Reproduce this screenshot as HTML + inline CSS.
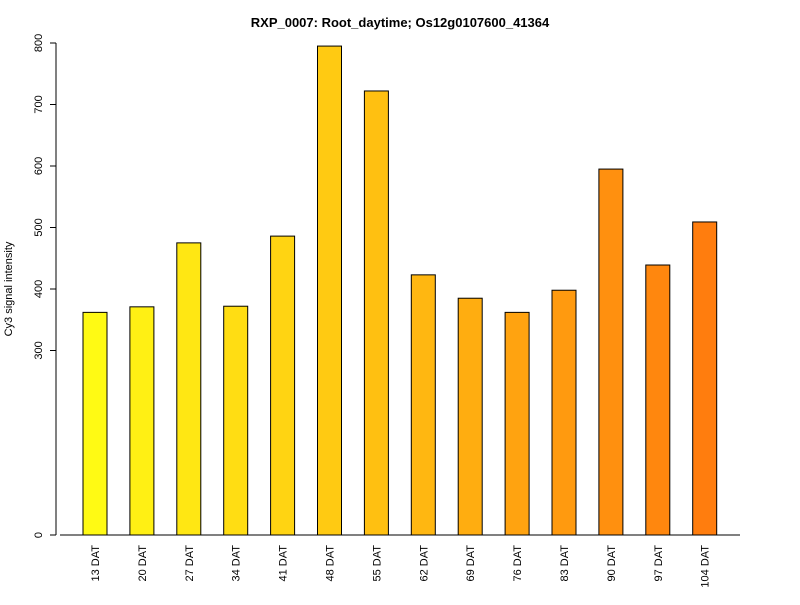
<!DOCTYPE html>
<html><head><meta charset="utf-8"><style>
body{margin:0;background:#fff;font-family:"Liberation Sans",Arial,sans-serif}
</style></head><body>
<svg id="chart" width="800" height="600" xmlns="http://www.w3.org/2000/svg" font-family="Liberation Sans, Arial, sans-serif">
<text x="400" y="27" text-anchor="middle" font-size="13" font-weight="bold">RXP_0007: Root_daytime; Os12g0107600_41364</text>
<text transform="translate(12,289) rotate(-90)" text-anchor="middle" font-size="11">Cy3 signal intensity</text>
<g id="g"></g>
</svg>
<script>
const categories=["13 DAT","20 DAT","27 DAT","34 DAT","41 DAT","48 DAT","55 DAT","62 DAT","69 DAT","76 DAT","83 DAT","90 DAT","97 DAT","104 DAT"];
const values=[362,371,475,372,486,795,722,423,385,362,398,595,439,509];
const yTicks=[0,300,400,500,600,700,800];
const NS="http://www.w3.org/2000/svg";
const g=document.getElementById('g');
const y0=535,k=0.615;
function y(v){return y0-v*k;}
function xc(i){return 95+i*46.9;}
function mk(t,a){const e=document.createElementNS(NS,t);for(const n in a)e.setAttribute(n,a[n]);g.appendChild(e);return e;}
const ax=mk('line',{x1:56,x2:56,y1:y(800),y2:y(0),stroke:'#000'});


const bx=mk('line',{x1:60,x2:740,y1:y0,y2:y0,stroke:'#000'});


yTicks.forEach(t=>{
 const l=mk('line',{x1:50,x2:56,y1:y(t),y2:y(t),stroke:'#000'});
 
 
 const tx=mk('text',{transform:`translate(42,${y(t)}) rotate(-90)`,'text-anchor':'middle','font-size':11});
 tx.textContent=t;
 
 
});
const n=categories.length;
categories.forEach((c,i)=>{
 const f=i/(n-1);
 const col=`rgb(255,${Math.round(250-f*125)},${Math.round(20-f*6)})`;
 const r=mk('rect',{x:xc(i)-12,y:y(values[i]),width:24,height:values[i]*k,fill:col,stroke:'#000','stroke-width':1});
 
 
 const t=mk('text',{transform:`translate(${xc(i)+4},545) rotate(-90)`,'text-anchor':'end','font-size':11});
 t.textContent=c;
 
 
});
</script>
</body></html>
